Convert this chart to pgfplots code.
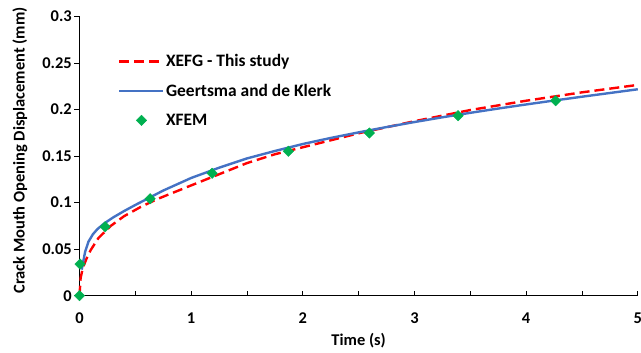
\documentclass[border=0pt]{standalone}
\usepackage{fontspec}
\setmainfont{Carlito}
\usepackage{pgfplots}
\pgfplotsset{compat=1.18}
\definecolor{xred}{RGB}{255,0,0}
\definecolor{xblue}{RGB}{68,114,196}
\definecolor{xgreen}{RGB}{0,176,80}
\pgfplotsset{
  linelegend/.style={legend image code/.code={\draw[##1] (0bp,0bp) -- (44bp,0bp);}},
  marklegend/.style={legend image code/.code={\draw[##1] plot coordinates {(22bp,0bp)};}},
}
\begin{document}
\begin{tikzpicture}
\begin{axis}[
  scale only axis,
  width=558.3bp, height=279.2bp,
  xmin=0, xmax=5, ymin=0, ymax=0.3,
  axis lines*=left,
  axis line style={line width=1.5bp, black},
  xtick={0,1,2,3,4,5},
  minor xtick={0.5,1.5,2.5,3.5,4.5},
  ytick={0,0.05,0.1,0.15,0.2,0.25,0.3},
  yticklabels={0,0.05,0.1,0.15,0.2,0.25,0.3},
  xticklabels={0,1,2,3,4,5},
  tick align=inside,
  major tick length=5bp, minor tick length=5bp,
  tick style={line width=0.8bp, black},
  y tick style={xshift=-5bp},
  ticklabel style={font=\fontsize{16.5}{18}\selectfont\bfseries},
  yticklabel style={inner xsep=0pt, xshift=-7.5bp},
  xticklabel style={inner ysep=0pt, yshift=-17bp},
  xlabel={Time (s)},
  ylabel={Crack Mouth Opening Displacement (mm)},
  label style={font=\fontsize{16.5}{18}\selectfont\bfseries},
  xlabel style={at={(axis description cs:0.5,0)}, anchor=north, yshift=-37bp, inner sep=0pt},
  ylabel style={at={(axis description cs:-0.1066,0.52)}, anchor=center, inner sep=0pt},
  legend style={at={(rel axis cs:0.069,0.87)}, anchor=north west, draw=none, fill=none,
    font=\fontsize{17.5}{19}\selectfont\bfseries, inner sep=0pt, row sep=13bp,
    nodes={inner sep=1.5bp, anchor=west}},
  legend cell align=left,
  clip=false,
]
\addplot[xred, line width=2.4bp, dash pattern=on 10bp off 5bp, linelegend] coordinates {
(0,0) (0.01,0.019) (0.03,0.030) (0.06,0.039) (0.1,0.049) (0.17,0.062) (0.28,0.075)
(0.4,0.0855) (0.55,0.0955) (0.7,0.104) (1.0,0.1185) (1.25,0.1305) (1.5,0.1425)
(1.75,0.152) (2.0,0.1595) (2.25,0.167) (2.5,0.1745) (2.75,0.181) (3.0,0.1875)
(3.25,0.1935) (3.5,0.1995) (3.75,0.2045) (4.0,0.2095) (4.25,0.214) (4.5,0.2185)
(4.75,0.2225) (5.0,0.2265)};
\addlegendentry{XEFG - This study}
\addplot[xblue, line width=2.4bp, linelegend] coordinates {
(0.02,0.028) (0.05,0.047) (0.08,0.058) (0.12,0.066) (0.16,0.0715) (0.22,0.0775)
(0.3,0.0840) (0.4,0.0910) (0.5,0.0975) (0.75,0.1130) (1.0,0.1265) (1.25,0.1375)
(1.5,0.1475) (1.75,0.1555) (2.0,0.163) (2.25,0.1695) (2.5,0.1755) (2.75,0.1812)
(3.0,0.1866) (3.25,0.1917) (3.5,0.1965) (3.75,0.2011) (4.0,0.2055) (4.25,0.2097)
(4.5,0.2138) (4.75,0.2178) (5.0,0.2218)};
\addlegendentry{Geertsma and de Klerk}
\addplot[only marks, mark=square*, mark size=3.7bp, mark options={rotate=45}, color=xgreen, marklegend] coordinates {
(0,0) (0.005,0.034) (0.229,0.0741) (0.632,0.1042) (1.188,0.1315) (1.87,0.1552)
(2.596,0.1748) (3.39,0.1934) (4.265,0.2095)};
\addlegendentry{XFEM}
\end{axis}
\pgfresetboundingbox
\path[use as bounding box] (-79.5bp,-57.3bp) rectangle (561.5bp,295.7bp);
\end{tikzpicture}
\end{document}
